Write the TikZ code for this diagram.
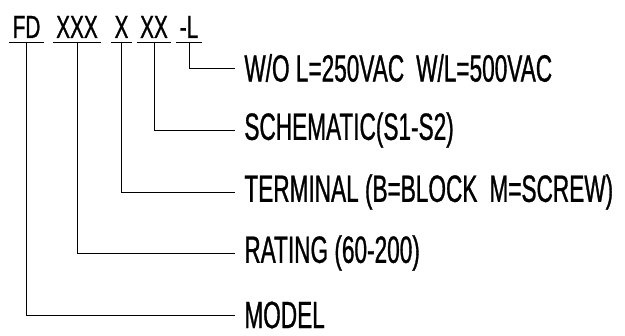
\documentclass[tikz,border=0pt]{standalone}
\usepackage{fontspec}
\newfontfamily\codefont[FakeStretch=0.65,FakeBold=0.8]{Liberation Sans}
\newfontfamily\labelfont[FakeStretch=0.595,FakeBold=0.8]{Liberation Sans}
\usetikzlibrary{positioning}

\begin{document}
\begin{tikzpicture}[x=1pt,y=-1pt,line width=0.8pt,
      part/.style={inner xsep=3pt, inner ysep=4pt, anchor=base, font=\codefont\fontsize{32}{36}\selectfont},
      lbl/.style={inner xsep=9pt, inner ysep=0pt, anchor=west, font=\labelfont\fontsize{38}{42}\selectfont}]

      \useasboundingbox (0,0) rectangle (625,336);

      % ordering code
      \node[part] (fd) at (26.5,38) {FD};
      \node[part] (xxx) at (77,38) {XXX};
      \node[part] (x) at (121.5,38) {X};
      \node[part] (xx) at (154,38) {XX};
      \node[part] (l) at (189,38) {-L};

      \foreach \p in {fd,xxx,x,xx,l}
        \draw (\p.south west) -- (\p.south east);

      % descriptions
      \node[lbl] (volt) at (235,68) {W/O L=250VAC\hspace{12pt}W/L=500VAC};
      \node[lbl] (schem) [below=62pt of volt.west, anchor=west] {SCHEMATIC(S1-S2)};
      \node[lbl] (term) [below=62pt of schem.west, anchor=west] {TERMINAL (B=BLOCK\hspace{12pt}M=SCREW)};
      \node[lbl] (rate) [below=61pt of term.west, anchor=west] {RATING (60-200)};
      \node[lbl] (model) [below=62pt of rate.west, anchor=west] {MODEL};

      \draw (l.south) |- (volt.west);
      \draw (xx.south) |- (schem.west);
      \draw (x.south) |- (term.west);
      \draw (xxx.south) |- (rate.west);
      \draw (fd.south) |- (model.west);

    \end{tikzpicture}
\end{document}
